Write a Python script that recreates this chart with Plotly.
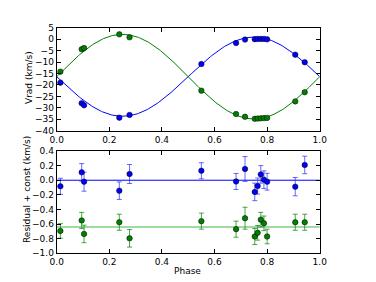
import numpy as np
import plotly.graph_objects as go

# Observed phases
phase = [0.014, 0.095, 0.104, 0.238, 0.277, 0.55, 0.682, 0.716, 0.753, 0.764, 0.776, 0.788, 0.80, 0.907, 0.943]
# Radial velocities (km/s)
vrad_blue = [-19.0, -28.0, -28.9, -34.3, -33.1, -10.9, -1.7, -0.2, 0.0, 0.1, 0.1, 0.1, -0.1, -6.8, -10.1]
vrad_green = [-14.2, -4.4, -3.9, 2.1, 0.8, -22.5, -32.7, -33.9, -34.8, -34.7, -34.6, -34.5, -34.4, -27.2, -23.2]
# Residuals + const (km/s)
res_blue = [-0.083, 0.108, -0.02, -0.143, 0.085, 0.13, -0.017, 0.154, -0.16, -0.08, 0.08, 0.008, -0.02, -0.088, 0.209]
err_blue = [0.11, 0.12, 0.13, 0.12, 0.13, 0.11, 0.11, 0.17, 0.12, 0.11, 0.12, 0.12, 0.115, 0.125, 0.12]
res_green = [-0.694, -0.55, -0.735, -0.575, -0.795, -0.56, -0.67, -0.52, -0.77, -0.72, -0.54, -0.59, -0.77, -0.575, -0.575]
err_green = [0.1, 0.11, 0.12, 0.11, 0.12, 0.11, 0.11, 0.15, 0.11, 0.1, 0.1, 0.1, 0.1, 0.11, 0.11]
const_blue = 0.0
const_green = -0.64

# Orbit model parameters
gamma = -16.4
K_blue = 17.3
K_green = 18.5

ph = np.linspace(0, 1, 300)
model_blue = gamma - K_blue * np.sin(2 * np.pi * ph)
model_green = gamma + K_green * np.sin(2 * np.pi * ph)

BLUE = "#0000ff"
GREEN = "#008000"
mk = dict(size=5.5, line=dict(color="black", width=0.5))

fig = go.Figure()
fig.add_trace(go.Scatter(x=ph, y=model_blue, mode="lines", line=dict(color=BLUE, width=1), xaxis="x", yaxis="y"))
fig.add_trace(go.Scatter(x=ph, y=model_green, mode="lines", line=dict(color=GREEN, width=1), xaxis="x", yaxis="y"))
fig.add_trace(go.Scatter(x=phase, y=vrad_blue, mode="markers", marker=dict(color=BLUE, **mk), xaxis="x", yaxis="y"))
fig.add_trace(go.Scatter(x=phase, y=vrad_green, mode="markers", marker=dict(color=GREEN, **mk), xaxis="x", yaxis="y"))

fig.add_trace(go.Scatter(x=[0, 1], y=[const_blue, const_blue], mode="lines", line=dict(color=BLUE, width=1), xaxis="x2", yaxis="y2"))
fig.add_trace(go.Scatter(x=[0, 1], y=[const_green, const_green], mode="lines", line=dict(color="rgba(0,160,0,0.5)", width=1.5), xaxis="x2", yaxis="y2"))
fig.add_trace(go.Scatter(x=phase, y=res_blue, mode="markers",
                         error_y=dict(type="data", array=err_blue, color="rgba(40,40,255,0.7)", thickness=1, width=2.5),
                         marker=dict(color=BLUE, **mk), xaxis="x2", yaxis="y2"))
fig.add_trace(go.Scatter(x=phase, y=res_green, mode="markers",
                         error_y=dict(type="data", array=err_green, color="rgba(0,128,0,0.7)", thickness=1, width=2.5),
                         marker=dict(color=GREEN, **mk), xaxis="x2", yaxis="y2"))

axstyle = dict(showline=True, linecolor="black", linewidth=1, mirror="allticks", ticks="inside",
               ticklen=4, tickcolor="black", showgrid=False, zeroline=False, automargin=False,
               tickfont=dict(family="DejaVu Sans", size=9, color="black"))

W, H = 376, 282
lab = dict(xref="paper", yref="paper", showarrow=False, font=dict(family="DejaVu Sans", size=9, color="black"),
           xanchor="center", yanchor="middle")

fig.update_layout(
    width=W, height=H, margin=dict(l=0, r=0, t=0, b=0),
    paper_bgcolor="white", plot_bgcolor="white", showlegend=False,
    font=dict(family="DejaVu Sans", size=9, color="black"),
    xaxis=dict(domain=[0.1508, 0.8503], range=[0, 1], dtick=0.2, tickformat=".1f", anchor="y", **axstyle),
    yaxis=dict(domain=[0.5365, 0.9018], range=[-40, 5], dtick=5, anchor="x", **axstyle),
    xaxis2=dict(domain=[0.1508, 0.8503], range=[0, 1], dtick=0.2, tickformat=".1f", anchor="y2", **axstyle),
    yaxis2=dict(domain=[0.1018, 0.4645], range=[-1.0, 0.4], dtick=0.2, tickformat=".1f", anchor="x2", **axstyle),
    annotations=[
        dict(text="Vrad (km/s)", x=29 / W, y=1 - 78 / H, textangle=-90, **lab),
        dict(text="Residual + const (km/s)", x=27 / W, y=1 - 190 / H, textangle=-90, **lab),
        dict(text="Phase", x=187.5 / W, y=1 - 271 / H, **lab),
    ],
)

fig.write_html("out.html", config={"displayModeBar": False},
               post_script="document.body.style.margin='0px';document.body.style.overflow='hidden';")
